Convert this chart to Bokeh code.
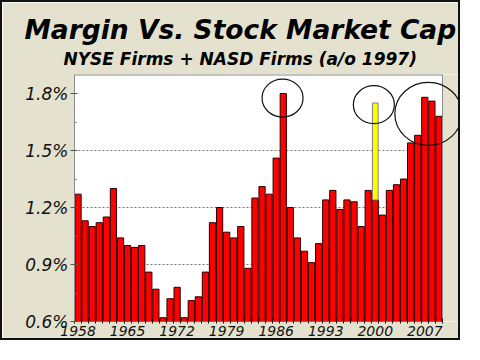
from bokeh.plotting import figure
from bokeh.models import Range1d, FixedTicker, Title
from bokeh.embed import file_html
from bokeh.resources import INLINE

# ---- data ----
years = list(range(1958, 2010))
margin_pct = [1.27, 1.13, 1.10, 1.12, 1.15, 1.30, 1.04, 1.00, 0.99, 1.00,
              0.86, 0.77, 0.62, 0.72, 0.78, 0.62, 0.71, 0.73, 0.86, 1.12,
              1.20, 1.07, 1.04, 1.10, 0.88, 1.25, 1.31, 1.27, 1.46, 1.80,
              1.20, 1.04, 0.97, 0.91, 1.01, 1.24, 1.29, 1.19, 1.24, 1.23,
              1.10, 1.29, 1.24, 1.16, 1.29, 1.32, 1.35, 1.54, 1.58, 1.78,
              1.76, 1.68]
hl_year = [2000]
hl_bottom = [1.24]
hl_top = [1.75]
x_tick_years = [1958, 1965, 1972, 1979, 1986, 1993, 2000, 2007]
y_ticks = [0.6, 0.9, 1.2, 1.5, 1.8]
y_tick_labels = ["0.6%", "0.9%", "1.2%", "1.5%", "1.8%"]
y_min, y_max = 0.6, 1.9
title_text = "Margin Vs. Stock Market Cap"
subtitle_text = "NYSE Firms + NASD Firms (a/o 1997)"
# annotation circles (centre in data units, size in pixels)
circle_x = [1986.9, 1999.8, 2007.5]
circle_y = [1.776, 1.741, 1.693]
circle_w = [41, 41, 67]
circle_h = [38, 38, 63]

BG = "#E4E2CE"
PX_PER_YEAR = 7.077
x_start = years[0] - 0.5
x_last = years[-1] + 0.5
x_end = x_start + 388 / PX_PER_YEAR

p = figure(width=460, height=340, output_backend="svg", toolbar_location=None,
           x_range=Range1d(x_start, x_end), y_range=Range1d(y_min, y_max),
           min_border_left=72, min_border_right=0, min_border_bottom=21, min_border_top=0)
p.styles = {"border": "2px solid #111111"}
p.background_fill_color = "white"
p.border_fill_color = BG
p.outline_line_color = None

# titles: first added sits next to the plot box
p.add_layout(Title(text=subtitle_text, align="left", offset=-11, vertical_align="top",
                   text_font="DejaVu Sans", text_font_style="bold italic",
                   text_font_size="17px", text_color="black", standoff=8), "above")
p.add_layout(Title(text=title_text, align="left", offset=-50, vertical_align="bottom",
                   text_font="DejaVu Sans", text_font_style="bold italic",
                   text_font_size="26.5px", text_color="black", standoff=0), "above")
p.add_layout(Title(text=" ", text_font_size="5px", standoff=1), "above")

# cover the extra frame area to the right of the plot box
p.quad(left=[x_last], right=[x_end], bottom=[y_min], top=[y_max],
       fill_color=BG, line_color=None)

# bars
p.vbar(x=years, top=margin_pct, bottom=y_min, width=0.88,
       fill_color="#FF0000", line_color="#2a0000", line_width=1)
p.vbar(x=hl_year, top=hl_top, bottom=hl_bottom, width=0.8,
       fill_color="#FFFF00", line_color="#808080", line_width=1)

# plot box border (top and right)
p.segment(x0=[x_start, x_last], y0=[y_max, y_min], x1=[x_last, x_last], y1=[y_max, y_max],
          line_color="#8c8c8c", line_width=[2, 1])

# circles
p.ellipse(x=circle_x, y=circle_y, width=circle_w, height=circle_h,
          width_units="screen", height_units="screen",
          fill_color=None, line_color="#111111", line_width=1.2)

# axes
p.xgrid.visible = False
p.ygrid.ticker = FixedTicker(ticks=y_ticks[1:4])
p.ygrid.grid_line_color = "#777777"
p.ygrid.grid_line_dash = "2 2"
p.ygrid.grid_line_width = 1

xa = p.xaxis[0]
xa.ticker = FixedTicker(ticks=x_tick_years, minor_ticks=[y - 0.5 for y in years] + [x_last])
xa.major_label_overrides = {y: str(y) for y in x_tick_years}
xa.axis_line_color = None
xa.major_tick_line_color = None
xa.major_tick_in = 0
xa.major_tick_out = 2
xa.minor_tick_line_color = "#111111"
xa.minor_tick_in = 3
xa.minor_tick_out = 2
xa.major_label_standoff = 2
xa.major_label_text_font = "DejaVu Sans"
xa.major_label_text_font_style = "italic"
xa.major_label_text_font_size = "14px"
xa.major_label_text_color = "#111111"

ya = p.yaxis[0]
ya.ticker = FixedTicker(ticks=y_ticks, minor_ticks=[0.75, 1.05, 1.35, 1.65])
ya.major_label_overrides = {t: l for t, l in zip(y_ticks, y_tick_labels)}
ya.axis_line_color = "#8c8c8c"
ya.major_tick_line_color = "#555555"
ya.major_tick_in = 3
ya.major_tick_out = 4
ya.minor_tick_line_color = "#777777"
ya.minor_tick_in = 2
ya.minor_tick_out = 0
ya.major_label_standoff = 2
ya.major_label_text_font = "DejaVu Sans"
ya.major_label_text_font_style = "italic"
ya.major_label_text_font_size = "17px"
ya.major_label_text_color = "#111111"

open("out.html", "w").write(file_html(p, INLINE))
